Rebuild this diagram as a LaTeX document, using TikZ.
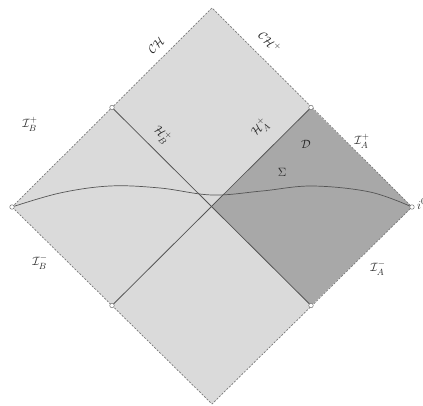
\documentclass[tikz,border=0pt]{standalone}
\usepackage{amsmath}
\begin{document}
\begin{tikzpicture}[x=1pt,y=-1pt,
  lightreg/.style={fill=lightfill},
  darkreg/.style={fill=darkfill},
  edge/.style={draw=edgegray,line width=0.7pt,dash pattern=on 2pt off 1.5pt},
  horizon/.style={draw=linegray,line width=0.8pt},
  surf/.style={draw=linegray,line width=0.7pt},
  vert/.style={circle,draw=edgegray,fill=white,inner sep=0pt,minimum size=4.5pt,line width=0.5pt},
  lab/.style={text=labgray,font=\fontsize{13}{15}\selectfont,inner sep=1pt}]
\definecolor{lightfill}{RGB}{218,218,218}
\definecolor{darkfill}{RGB}{168,168,168}
\definecolor{edgegray}{RGB}{120,120,120}
\definecolor{linegray}{RGB}{85,85,85}
\definecolor{labgray}{RGB}{40,40,40}
\useasboundingbox (0,0) rectangle (423,406);
\coordinate (L) at (12,207);
\coordinate (T) at (212,8);
\coordinate (R) at (412,207);
\coordinate (B) at (212,404);
\coordinate (C) at (212,207);
\coordinate (TL) at (112,107.5);
\coordinate (TR) at (311,107.5);
\coordinate (BL) at (112,305.5);
\coordinate (BR) at (311,305.5);
% regions
\fill[lightreg] (L) -- (T) -- (R) -- (B) -- cycle;
\fill[darkreg] (C) -- (TR) -- (R) -- (BR) -- cycle;
% boundary
\draw[edge] (L) -- (T) -- (R) -- (B) -- cycle;
% horizons
\draw[horizon] (TL) -- (BR);
\draw[horizon] (TR) -- (BL);
% Cauchy surface
\draw[surf] plot[smooth,tension=0.6] coordinates {(12,207) (60,193) (110,186) (160,188) (212,195) (262,191) (312,186) (370,192) (412,207)};
% vertices
\foreach \p in {L,R,TL,TR,BL,BR} \node[vert] at (\p) {};
% labels
\node[lab,rotate=45] (ch) at (156,45) {$\mathcal{CH}$};
\node[lab,rotate=-45] (chp) at (270,42) {$\mathcal{CH}^{+}$};
\node[lab] (ibp) at (30,124) {$\mathcal{I}_B^{+}$};
\node[lab] (ibm) at (40,262) {$\mathcal{I}_B^{-}$};
\node[lab,rotate=-45] (hb) at (162,135) {$\mathcal{H}_B^{+}$};
\node[lab,rotate=45] (ha) at (260,128) {$\mathcal{H}_A^{+}$};
\node[lab] (dd) at (306,144) {$\mathcal{D}$};
\node[lab] (sig) at (282,172) {$\Sigma$};
\node[lab] (iap) at (362,141) {$\mathcal{I}_A^{+}$};
\node[lab] (iam) at (378,268) {$\mathcal{I}_A^{-}$};
\node[lab,anchor=west] (i0) at (416,204) {$i^0$};
\end{tikzpicture}
\end{document}
